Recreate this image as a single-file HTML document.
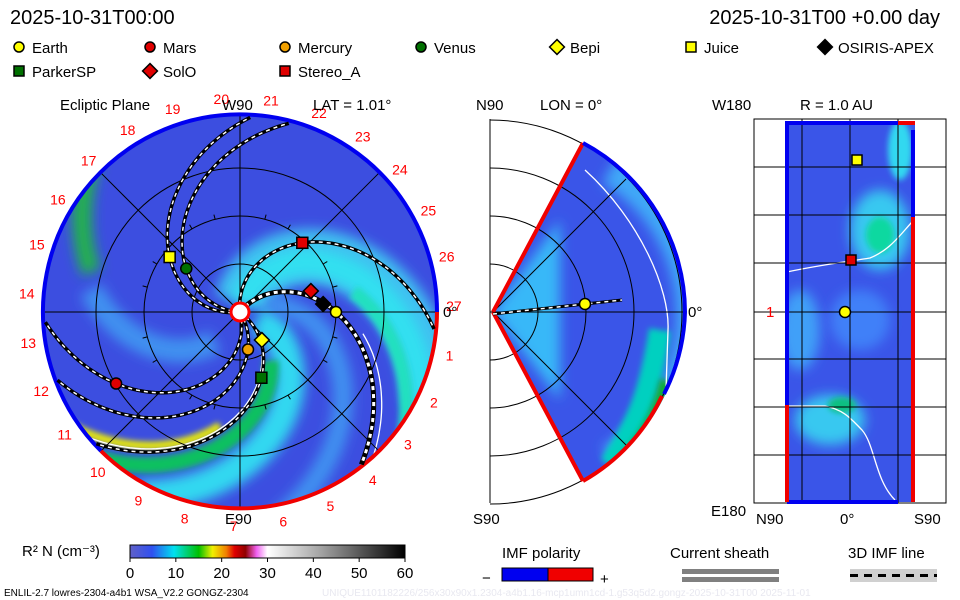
<!DOCTYPE html>
<html><head><meta charset="utf-8"><style>
body{margin:0;background:#fff}
svg{display:block;font-family:"Liberation Sans",sans-serif}
</style></head><body>
<svg id="c" width="960" height="600" viewBox="0 0 960 600" xmlns="http://www.w3.org/2000/svg">
<defs>
<clipPath id="disk"><circle cx="240" cy="312" r="197"/></clipPath>
<clipPath id="wedge"><path d="M493,312 L583,143 A192,192 0 0 1 583,481 Z"/></clipPath>
<clipPath id="rect"><rect x="785" y="122" width="130" height="380"/></clipPath>
<filter id="bl" filterUnits="userSpaceOnUse" x="0" y="0" width="960" height="600"><feGaussianBlur stdDeviation="6"/></filter>
<filter id="bl2" filterUnits="userSpaceOnUse" x="0" y="0" width="960" height="600"><feGaussianBlur stdDeviation="3"/></filter>
<linearGradient id="cb" x1="0" x2="1" y1="0" y2="0">
<stop offset="0" stop-color="#6060c8"/><stop offset="0.08" stop-color="#3050f0"/>
<stop offset="0.16" stop-color="#00e0f0"/><stop offset="0.25" stop-color="#00c000"/>
<stop offset="0.3" stop-color="#f0f000"/><stop offset="0.35" stop-color="#f08000"/>
<stop offset="0.38" stop-color="#e00000"/><stop offset="0.42" stop-color="#900000"/>
<stop offset="0.46" stop-color="#f060f0"/><stop offset="0.5" stop-color="#ffffff"/>
<stop offset="0.7" stop-color="#a0a0a0"/><stop offset="1" stop-color="#000"/>
</linearGradient>
</defs>
<g font-size="20" fill="#000">
<text x="10" y="24">2025-10-31T00:00</text>
<text x="940" y="24" text-anchor="end">2025-10-31T00 +0.00 day</text>
</g>
<g id="legend" font-size="15"></g>

<g>
<circle cx="240" cy="312" r="197" fill="#3c4ee0"/>
<g clip-path="url(#disk)" id="bgL"></g>
<g id="gridL" stroke="#000" stroke-width="1" fill="none"></g>
<path d="M101,451 A197,197 0 1 1 437,312" stroke="#0000f0" stroke-width="4" fill="none"/>
<path d="M437,312 A197,197 0 0 1 101,451" stroke="#f00000" stroke-width="4" fill="none"/>
<g id="spirals"></g>
<circle cx="240" cy="312" r="9" fill="#fff" stroke="#f00" stroke-width="3"/>
<g id="ticksL" fill="#f00" font-size="14"></g>
<g id="planetsL"></g>
<g font-size="15" fill="#000">
<text x="60" y="110">Ecliptic Plane</text>
<text x="222" y="110">W90</text>
<text x="313" y="110">LAT = 1.01°</text>
<text x="443" y="317">0°</text>
<text x="225" y="524">E90</text>
</g>
</g>

<g>
<path d="M493,312 L583,143 A192,192 0 0 1 583,481 Z" fill="#3a55e8"/>
<g clip-path="url(#wedge)">
<path d="M493,312 L560,220 L560,400 Z" fill="#38b8f8" filter="url(#bl)"/>
<path d="M610,170 A170,170 0 0 1 610,460" stroke="#40a8f8" stroke-width="30" fill="none" filter="url(#bl)"/>
<path d="M660,330 C650,390 640,420 610,465" stroke="#00d0c0" stroke-width="22" fill="none" filter="url(#bl2)"/>
<path d="M665,380 C655,420 640,440 620,465" stroke="#10b030" stroke-width="10" fill="none" filter="url(#bl2)"/>
<path d="M585,170 C640,220 670,290 668,330 L666,390" stroke="#fff" stroke-width="1.3" fill="none"/>
</g>
<g id="gridM" stroke="#000" stroke-width="1" fill="none"></g>
<path d="M493,312 L583,143 M493,312 L583,481 M583,481 A192,192 0 0 0 662,396" stroke="#f00000" stroke-width="4" fill="none"/>
<path d="M583,143 A192,192 0 0 1 685,312 A192,192 0 0 1 664,394" stroke="#0000f0" stroke-width="4" fill="none"/>
<path d="M493,314 L585,304 L622,300" stroke="#000" stroke-width="3" fill="none"/>
<path d="M493,314 L585,304 L622,300" stroke="#fff" stroke-width="1.5" stroke-dasharray="4,4" fill="none"/>
<circle cx="585" cy="304" r="5.5" fill="#ffff00" stroke="#000" stroke-width="1.5"/>
<g font-size="15" fill="#000">
<text x="476" y="110">N90</text>
<text x="540" y="110">LON = 0°</text>
<text x="688" y="317">0°</text>
<text x="473" y="524">S90</text>
</g>
</g>

<g>
<rect x="785" y="122" width="130" height="380" fill="#3a55e8"/>
<g clip-path="url(#rect)">
<ellipse cx="880" cy="230" rx="30" ry="40" fill="#38c8f0" filter="url(#bl)"/>
<ellipse cx="880" cy="235" rx="14" ry="18" fill="#10d8a0" filter="url(#bl2)"/>
<ellipse cx="830" cy="420" rx="35" ry="25" fill="#38c8f0" filter="url(#bl)"/>
<ellipse cx="842" cy="405" rx="14" ry="8" fill="#10c080" filter="url(#bl2)"/>
<ellipse cx="800" cy="330" rx="20" ry="40" fill="#40a0f8" filter="url(#bl)"/>
<ellipse cx="900" cy="150" rx="12" ry="30" fill="#30d8f0" filter="url(#bl2)"/>
<ellipse cx="860" cy="320" rx="30" ry="30" fill="#4080f8" filter="url(#bl)"/>
<path d="M787,272 C820,265 845,262 870,258 C890,250 900,235 912,222" stroke="#fff" stroke-width="1.3" fill="none"/>
<path d="M787,406 L825,406 C845,410 852,420 862,430 C875,445 875,480 895,500" stroke="#fff" stroke-width="1.3" fill="none"/>
</g>
<rect x="754" y="119" width="192" height="384" fill="none" stroke="#000"/>
<g id="gridR" stroke="#000" stroke-width="1"></g>
<path d="M787,122 V405 M787,502 H898 M785,123 H898 M913,130 V217" stroke="#0000f0" stroke-width="4" fill="none"/>
<path d="M787,405 V502 M913,217 V502 M898,123 H915" stroke="#f00000" stroke-width="4" fill="none"/>
<rect x="852" y="155" width="10" height="10" fill="#ffff00" stroke="#000" stroke-width="1.5"/>
<rect x="846" y="255" width="10" height="10" fill="#e00000" stroke="#000" stroke-width="1.5"/>
<circle cx="845" cy="312" r="5.5" fill="#ffff00" stroke="#000" stroke-width="1.5"/>
<g font-size="15" fill="#000">
<text x="712" y="110">W180</text>
<text x="800" y="110">R = 1.0 AU</text>
<text x="766" y="317" fill="#f00">1</text>
<text x="711" y="516">E180</text>
<text x="756" y="524">N90</text>
<text x="840" y="524">0°</text>
<text x="914" y="524">S90</text>
</g>
</g>

<g font-size="15">
<text x="22" y="556">R² N (cm⁻³)</text>
<rect x="130" y="545" width="275" height="13" fill="url(#cb)" stroke="#000"/>
<g id="cbticks"></g>
</g>
<g font-size="15">
<text x="502" y="558">IMF polarity</text>
<text x="482" y="583">−</text>
<rect x="502" y="568" width="46" height="13" fill="#0000f0" stroke="#000"/>
<rect x="548" y="568" width="45" height="13" fill="#f00000" stroke="#000"/>
<text x="600" y="584">+</text>
</g>
<g font-size="15">
<text x="670" y="558">Current sheath</text>
<rect x="682" y="569" width="97" height="5" fill="#808080"/>
<rect x="682" y="577" width="97" height="5" fill="#808080"/>
</g>
<g font-size="15">
<text x="848" y="558">3D IMF line</text>
<rect x="850" y="569" width="87" height="13" fill="#d0d0d0"/>
<line x1="850" y1="575.5" x2="937" y2="575.5" stroke="#000" stroke-width="3" stroke-dasharray="8,6"/>
</g>
<text x="4" y="596" font-size="10" fill="#000">ENLIL-2.7 lowres-2304-a4b1 WSA_V2.2 GONGZ-2304</text>
<text x="322" y="596" font-size="10" fill="#e8e8f0">UNIQUE1101182226/256x30x90x1.2304-a4b1.16-mcp1umn1cd-1.g53q5d2.gongz-2025-10-31T00    2025-11-01</text>
</svg>
<script>
const NS="http://www.w3.org/2000/svg";
const planetNames=["Earth","Mars","Mercury","Venus","Bepi","Juice","OSIRIS-APEX","ParkerSP","SolO","Stereo_A"];
const planetR=[1.0,1.49,0.40,0.72,0.37,0.93,0.87,0.72,0.77,0.97];
const planetLon=[0,210,-78,141,-52,142,5.5,-72,16.5,48];
const spiralBodies=["Earth","Mars","Venus","Juice","ParkerSP","Stereo_A","Mercury"];
const sectorLabels=[1,2,3,4,5,6,7,8,9,10,11,12,13,14,15,16,17,18,19,20,21,22,23,24,25,26,27];
const cbTicks=[0,10,20,30,40,50,60];
const legendNames=["Earth","Mars","Mercury","Venus","Bepi","Juice","OSIRIS-APEX","ParkerSP","SolO","Stereo_A"];
const legendShape=["circle","circle","circle","circle","diamond","square","diamond","square","diamond","square"];
const legendColor=["#ffff00","#e00000","#f0a000","#007000","#ffff00","#ffff00","#000000","#007000","#e00000","#e00000"];

const CX=240,CY=312,AU=96,RMAX=197;
const sx=(r,a)=>CX+r*AU*Math.cos(a*Math.PI/180);
const sy=(r,a)=>CY-r*AU*Math.sin(a*Math.PI/180);
function mk(tag,attrs,parent){const e=document.createElementNS(NS,tag);for(const k in attrs)e.setAttribute(k,attrs[k]);parent.appendChild(e);return e;}
function marker(shape,color,x,y,s,parent){
  let e;
  if(shape==="circle") e=mk("circle",{cx:x,cy:y,r:s,fill:color,stroke:"#000","stroke-width":1.5},parent);
  else if(shape==="square") e=mk("rect",{x:x-s,y:y-s,width:2*s,height:2*s,fill:color,stroke:"#000","stroke-width":1.5},parent);
  else e=mk("path",{d:`M${x},${y-s*1.35}L${x+s*1.35},${y}L${x},${y+s*1.35}L${x-s*1.35},${y}Z`,fill:color,stroke:"#000","stroke-width":1.5},parent);
  return e;
}
const lg=document.getElementById("legend");
const colX=[22,153,288,424,560,694,828];
legendNames.forEach((n,i)=>{
  const x=colX[i%7], y=i<7?48:72;
  const g=mk("g",{},lg);
  
  
  marker(legendShape[i],legendColor[i],x-3,y-1,legendShape[i]==="diamond"?5.5:5,g);
  const t=mk("text",{x:x+10,y:y+5},g);t.textContent=n;
});
const bg=document.getElementById("bgL");
function spiralPts(r0,a0,k,rs,re){let p=[];for(let r=rs;r<=re;r+=0.03){const a=a0-k*(r-r0);p.push(sx(r,a).toFixed(1)+","+sy(r,a).toFixed(1));}return p.join(" ");}
mk("polyline",{points:spiralPts(1,35,50,0.1,2.2),stroke:"#40c0f0","stroke-width":55,fill:"none",filter:"url(#bl)"},bg);
mk("polyline",{points:spiralPts(1,30,50,0.1,2.2),stroke:"#30e0f0","stroke-width":26,fill:"none",filter:"url(#bl)"},bg);
mk("polyline",{points:spiralPts(1,20,50,1.2,2.2),stroke:"#20e0c0","stroke-width":14,fill:"none",filter:"url(#bl2)"},bg);
mk("polyline",{points:spiralPts(1,-60,50,0.2,2.2),stroke:"#30d8f0","stroke-width":30,fill:"none",filter:"url(#bl)"},bg);
mk("polyline",{points:spiralPts(1,-78,50,0.6,2.2),stroke:"#10c060","stroke-width":16,fill:"none",filter:"url(#bl2)"},bg);
mk("polyline",{points:spiralPts(1,-90,50,1.2,2.2),stroke:"#f0f000","stroke-width":8,fill:"none",filter:"url(#bl2)"},bg);
mk("polyline",{points:spiralPts(1,195,50,1.6,2.2),stroke:"#20b050","stroke-width":20,fill:"none",filter:"url(#bl)"},bg);
mk("polyline",{points:spiralPts(1,200,50,0.4,1.6),stroke:"#4090f0","stroke-width":24,fill:"none",filter:"url(#bl)"},bg);
mk("polyline",{points:spiralPts(1,-20,50,0.3,2.2),stroke:"#4090f0","stroke-width":20,fill:"none",filter:"url(#bl)"},bg);
mk("polyline",{points:spiralPts(1,5,50,1.3,2.2),stroke:"#fff","stroke-width":1.3,fill:"none"},bg);
mk("polyline",{points:spiralPts(1,-88,50,0.5,2.2),stroke:"#fff","stroke-width":1.3,fill:"none"},bg);
const gl=document.getElementById("gridL");
[0.5,1,1.5].forEach(r=>mk("circle",{cx:CX,cy:CY,r:r*AU},gl));
[0,45,90,135].forEach(a=>{mk("line",{x1:sx(-RMAX/AU,a),y1:sy(-RMAX/AU,a),x2:sx(RMAX/AU,a),y2:sy(RMAX/AU,a)},gl);});
for(let a=0;a<360;a+=15){mk("line",{x1:sx(1,a),y1:sy(1,a),x2:sx(1.05,a),y2:sy(1.05,a)},gl);}
const sp=document.getElementById("spirals");
spiralBodies.forEach(n=>{
  const i=planetNames.indexOf(n);
  const pts=spiralPts(planetR[i],planetLon[i],50,0.08,2.05);
  const g=mk("g",{"clip-path":"url(#disk)"},sp);
  
  
  const w=(n==="Earth")?5:3.5;
  mk("polyline",{points:pts,stroke:"#000","stroke-width":w,fill:"none"},g);
  mk("polyline",{points:pts,stroke:"#fff","stroke-width":w-2,"stroke-dasharray":"4,4",fill:"none"},g);
});
const tk=document.getElementById("ticksL");
sectorLabels.forEach(n=>{
  const a=175-(n-14)*360/27;
  const t=mk("text",{x:sx(214/AU,a),y:sy(214/AU,a)+5,"text-anchor":"middle"},tk);
  
  
  t.textContent=n;
});
const pl=document.getElementById("planetsL");
planetNames.forEach((n,i)=>{
  const e=marker(legendShape[i],legendColor[i],sx(planetR[i],planetLon[i]),sy(planetR[i],planetLon[i]),5.5,pl);
  
  
});
const gm=document.getElementById("gridM");
mk("line",{x1:490,y1:119,x2:490,y2:503},gm);
[48,96,144,192].forEach(r=>mk("path",{d:`M490,${312-r} A${r},${r} 0 0 1 490,${312+r}`},gm));
mk("line",{x1:490,y1:312,x2:685,y2:312},gm);
mk("line",{x1:493,y1:312,x2:626,y2:179},gm);
mk("line",{x1:493,y1:312,x2:626,y2:445},gm);
const gr=document.getElementById("gridR");
[802,850,898].forEach(x=>mk("line",{x1:x,y1:119,x2:x,y2:503},gr));
[167,215,263,312,359,407,455].forEach(y=>mk("line",{x1:754,y1:y,x2:946,y2:y},gr));
const cbt=document.getElementById("cbticks");
cbTicks.forEach(v=>{
  const x=130+v/60*275;
  mk("line",{x1:x,y1:558,x2:x,y2:562,stroke:"#000"},cbt);
  const t=mk("text",{x:x,y:578,"text-anchor":"middle"},cbt);
  
  
  t.textContent=v;
});
</script>
</body></html>
